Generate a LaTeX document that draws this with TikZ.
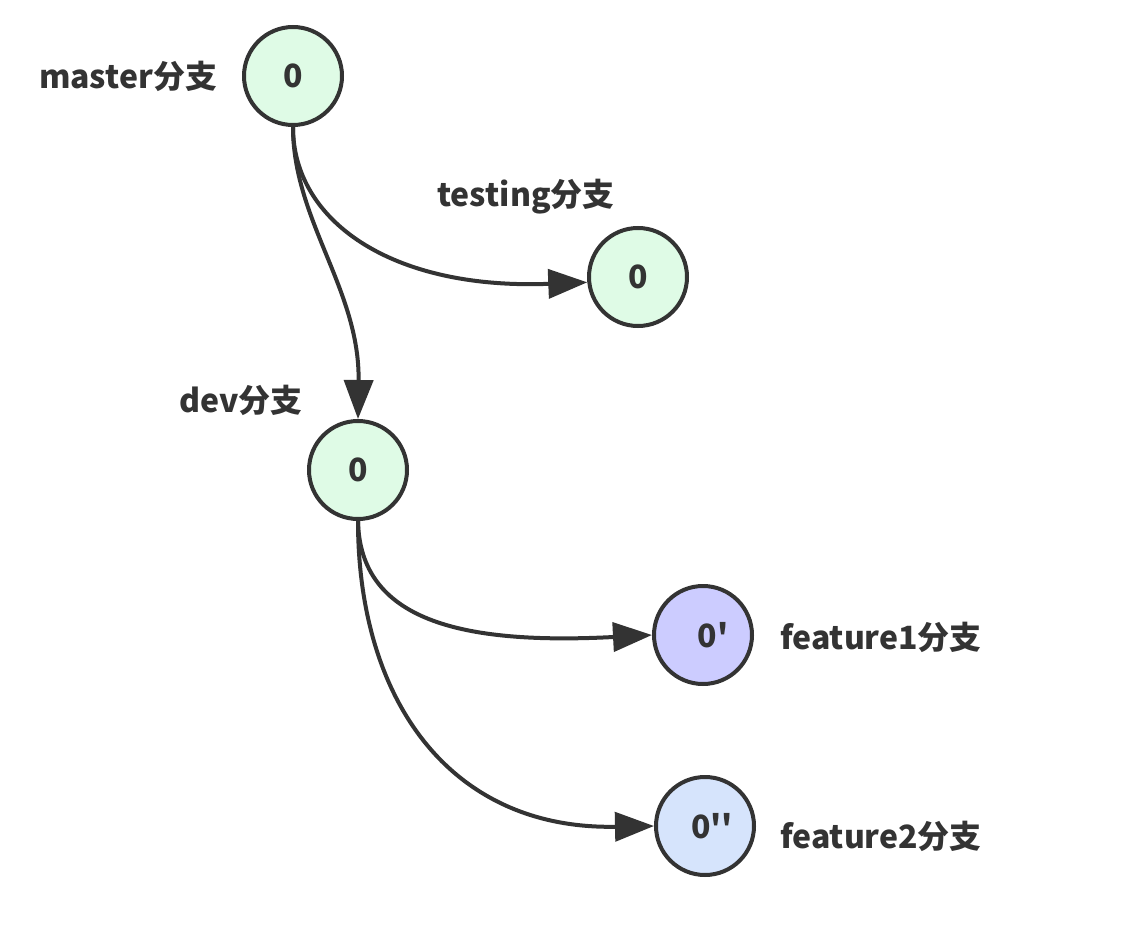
\documentclass[tikz,border=0pt]{standalone}
\usepackage{fontspec}
\setmainfont{Noto Sans CJK SC}
\usetikzlibrary{arrows.meta}
\definecolor{ink}{HTML}{333333}
\definecolor{mint}{HTML}{DFFBE6}
\definecolor{lav}{HTML}{CCCCFF}
\definecolor{sky}{HTML}{D6E4FC}
\begin{document}
\begin{tikzpicture}[x=1pt,y=-1pt,
  commit/.style={circle, draw=ink, line width=4pt, minimum size=98pt, inner sep=0pt,
    font=\fontsize{32}{38}\selectfont\bfseries, text=ink},
  lbl/.style={font=\fontsize{32}{38}\selectfont\bfseries, text=ink, inner sep=0pt},
  link/.style={draw=ink, line width=4pt, -{Triangle[length=39pt,width=29pt]}}]
\useasboundingbox (0,0) rectangle (1132,944);
\node[commit, fill=mint] (m) at (293,76) {0};
\node[commit, fill=mint] (t) at (638,277) {0};
\node[commit, fill=mint] (d) at (358,470) {0};
\node[commit, fill=lav] (f1) at (703,635) {\hspace*{20pt}0\textquotesingle};
\node[commit, fill=sky] (f2) at (705,826) {\hspace*{14pt}0\textquotesingle\textquotesingle};
\node[lbl] (lm) at (128,76) {master分支};
\node[lbl] (lt) at (526,197) {testing分支};
\node[lbl] (ld) at (241,400) {dev分支};
\node[lbl] (lf1) at (881,637) {feature1分支};
\node[lbl] (lf2) at (881,836) {feature2分支};
\draw[link] (m.south) .. controls (293,220) and (390,290) .. (t.186);
\draw[link] (m.south) .. controls (293,220) and (360,290) .. (d.north);
\draw[link] (d.south) .. controls (360,620) and (460,645) .. (f1.west);
\draw[link] (d.south) .. controls (358,700) and (450,830) .. (f2.west);
\end{tikzpicture}
\end{document}
